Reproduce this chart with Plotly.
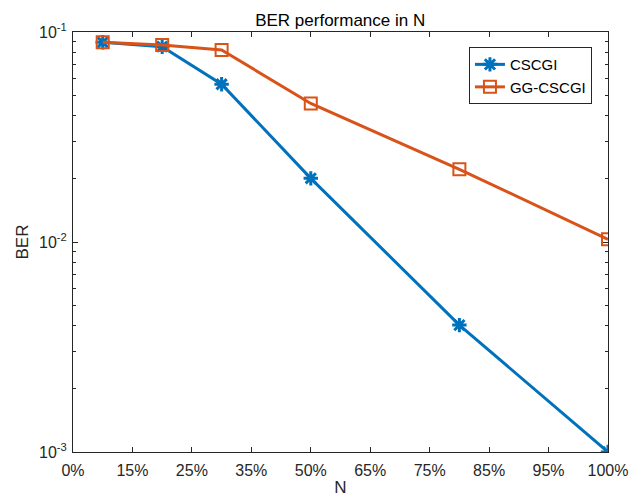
import plotly.graph_objects as go

# Position index along the x axis and the percentage labels shown at each tick
tick_positions = [0, 1, 2, 3, 4, 5, 6, 7, 8, 9]
tick_labels = ["0%", "15%", "25%", "35%", "50%", "65%", "75%", "85%", "95%", "100%"]

# Sample positions (in tick units) where BER was evaluated
x_vals = [0.5, 1.5, 2.5, 4, 6.5, 9]

ber_cscgi = [0.0893, 0.0851, 0.0564, 0.0201, 0.00402, 0.001]
ber_gg_cscgi = [0.0893, 0.0867, 0.0821, 0.0457, 0.0222, 0.0103]

y_tickvals = [1e-3, 1e-2, 1e-1]
y_ticktext = ["10<sup>-3</sup>", "10<sup>-2</sup>", "10<sup>-1</sup>"]

FONT = "Liberation Sans, Arial, Helvetica, sans-serif"
AXIS_COLOR = "#262626"

fig = go.Figure()
fig.add_trace(go.Scatter(
    x=x_vals, y=ber_cscgi, name="CSCGI", mode="lines+markers",
    line=dict(color="#0072BD", width=3),
    marker=dict(symbol="asterisk-open", size=12, color="#0072BD",
                line=dict(color="#0072BD", width=3)),
))
fig.add_trace(go.Scatter(
    x=x_vals, y=ber_gg_cscgi, name="GG-CSCGI", mode="lines+markers",
    line=dict(color="#D95319", width=3),
    marker=dict(symbol="square-open", size=12, color="#D95319",
                line=dict(color="#D95319", width=2)),
))

axis_common = dict(
    showgrid=False, zeroline=False, showline=True, linecolor=AXIS_COLOR,
    linewidth=1, mirror="ticks", ticks="inside", ticklen=5, tickwidth=1,
    tickcolor=AXIS_COLOR, tickfont=dict(family=FONT, size=16, color=AXIS_COLOR),
    automargin=False,
)

fig.update_xaxes(
    **axis_common, range=[0, 9], tickmode="array",
    tickvals=tick_positions, ticktext=tick_labels, ticklabelstandoff=4,
    title=dict(text="N", font=dict(family=FONT, size=17, color=AXIS_COLOR), standoff=2),
)
fig.update_yaxes(
    **axis_common, type="log", range=[-3, -1], tickmode="array",
    tickvals=y_tickvals, ticktext=y_ticktext, ticklabelstandoff=2,
    minor=dict(ticks="inside", ticklen=3, tickcolor=AXIS_COLOR,
               tickvals=[m * 10 ** e for e in (-3, -2) for m in range(2, 10)]),
    title=dict(text="BER", font=dict(family=FONT, size=17, color=AXIS_COLOR), standoff=6),
)

fig.update_layout(
    width=637, height=497,
    margin=dict(l=73, r=29, t=32, b=45),
    paper_bgcolor="white", plot_bgcolor="white",
    title=dict(text="BER performance in N", x=(72.7 + 607.7) / 2 / 637, xanchor="center",
               y=1 - 20 / 497, yanchor="middle",
               font=dict(family=FONT, size=17, color="black")),
    legend=dict(x=0.97, y=0.964, xanchor="right", yanchor="top",
                bgcolor="white", bordercolor=AXIS_COLOR, borderwidth=1,
                font=dict(family=FONT, size=15, color="black"),
                itemwidth=30, tracegroupgap=0),
    showlegend=True,
)

fig.write_html("out.html")
